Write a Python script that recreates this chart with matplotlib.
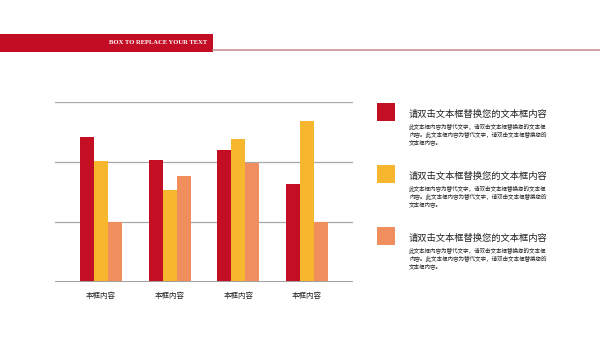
import matplotlib.pyplot as plt
from matplotlib.patches import Rectangle
from matplotlib.lines import Line2D
import numpy as np

plt.rcParams['font.family'] = ['Noto Sans CJK SC', 'DejaVu Sans']

categories = ['本框内容', '本框内容', '本框内容', '本框内容']
series_a = [121, 102, 110, 82]
series_b = [101, 77, 119, 134]
series_c = [50, 88, 99, 50]
colors = ['#c40e24', '#f6b72e', '#f08e5e']

header_text = 'BOX TO REPLACE YOUR TEXT'
item_title = '请双击文本框替换您的文本框内容'
item_lines = [
    '此文本框内容为替代文字，请双击文本框替换您的文本框',
    '内容。此文本框内容为替代文字，请双击文本框替换您的',
    '文本框内容。',
]

W, H = 600, 338
fig = plt.figure(figsize=(6, 3.38), dpi=100)


def fx(px):
    return px / W


def fy(py):
    return 1 - py / H


# header band and rule
fig.add_artist(Rectangle((0, fy(51.5)), fx(213), 17.5 / H,
                         transform=fig.transFigure, color='#c20d24', lw=0))
fig.add_artist(Line2D([fx(213), 1], [fy(49.5), fy(49.5)],
                      transform=fig.transFigure, color='#c4898f', lw=1.1))
fig.text(fx(207), fy(42.5), header_text, color='white', fontsize=4.8,
         fontweight='bold', family='Liberation Serif', ha='right', va='center')

# grouped bars
ax = fig.add_axes([fx(55), fy(282), fx(353) - fx(55), 180 / H])
x = np.arange(len(categories))
w = 0.205
for i, (vals, c) in enumerate(zip([series_a, series_b, series_c], colors)):
    ax.bar(x + (i - 1) * w, vals, width=w, color=c, zorder=3)

for g in [50, 100, 150]:
    ax.axhline(g, color='#a8a8a8', lw=0.9, zorder=1)
ax.axhline(0, color='#a0a0a0', lw=1.4, zorder=4)
ax.set_ylim(0, 150)
ax.set_xlim(-0.67, 3.67)
for s in ax.spines.values():
    s.set_visible(False)
ax.set_yticks([])
ax.set_xticks(x)
ax.set_xticklabels(categories, fontsize=5.4, color='#222222')
ax.tick_params(axis='x', length=0, pad=7.5)

# side legend with description text
for k, c in enumerate(colors):
    top = 102.5 + k * 62
    fig.add_artist(Rectangle((fx(377), fy(top + 18.2)), fx(18.2), 18.2 / H,
                             transform=fig.transFigure, color=c, lw=0))
    ty = top + 11.8
    fig.text(fx(409), fy(ty), item_title, fontsize=6.7, color='#222222',
             va='center', ha='left')
    for j, line in enumerate(item_lines):
        fig.text(fx(409), fy(ty + 13 + j * 7.6), line, fontsize=4.0,
                 color='#222222', va='center', ha='left')

fig.savefig('out.png', dpi=100)
